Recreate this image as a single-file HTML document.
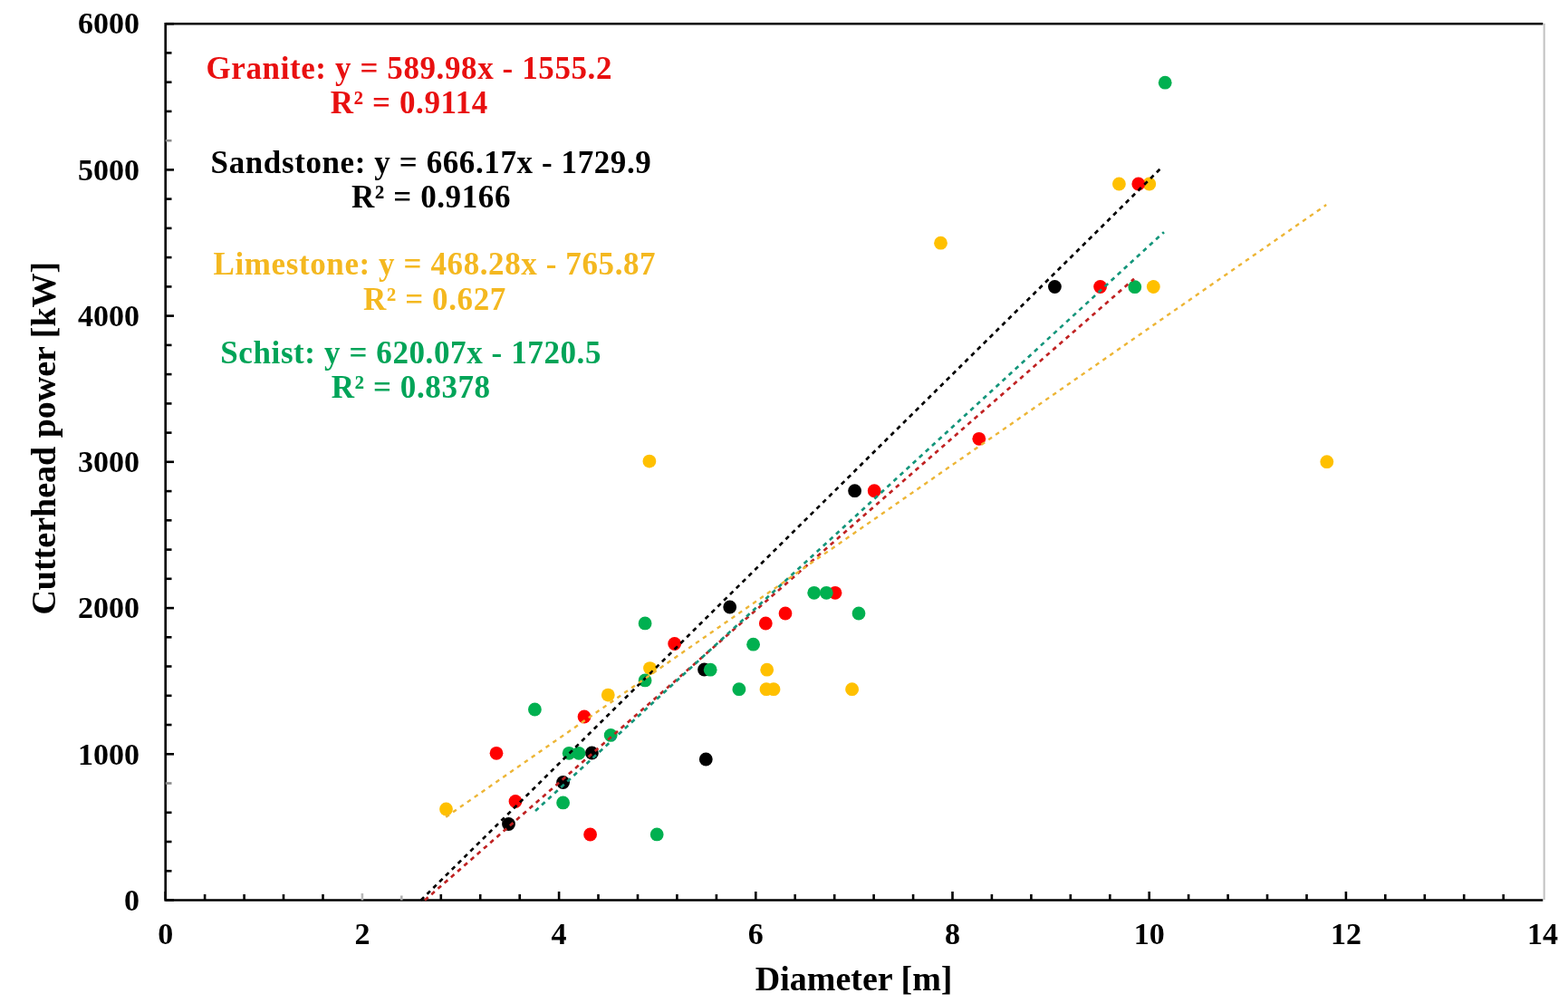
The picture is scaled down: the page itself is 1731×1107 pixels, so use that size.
<!DOCTYPE html>
<html><head><meta charset="utf-8"><title>Cutterhead power vs Diameter</title>
<style>
html,body{margin:0;padding:0;background:#fff;}
body{width:1731px;height:1107px;overflow:hidden;}
svg{display:block;}
text{font-family:"Liberation Serif","Times New Roman",serif;font-weight:bold;}
.tk{font-size:34px;fill:#000;}
.ax{font-size:38px;fill:#000;}
.an{font-size:35px;letter-spacing:0.6px;}
</style></head>
<body>
<svg width="1731" height="1107" viewBox="0 0 1731 1107">
<rect width="1731" height="1107" fill="#fff"/>
<line x1="1704.7" y1="26" x2="1704.7" y2="993" stroke="#C6C6C6" stroke-width="2.2"/>
<path d="M182.7 992.2 V26.2 H1703.3" fill="none" stroke="#000" stroke-width="2.6"/>
<line x1="181.4" y1="993.5" x2="1703.3" y2="993.5" stroke="#000" stroke-width="2.6"/>
<line x1="182.7" y1="993.5" x2="192.0" y2="993.5" stroke="#000" stroke-width="2.6"/>
<line x1="182.7" y1="961.3" x2="189.5" y2="961.3" stroke="#000" stroke-width="2.6"/>
<line x1="182.7" y1="929.0" x2="189.5" y2="929.0" stroke="#000" stroke-width="2.6"/>
<line x1="182.7" y1="896.8" x2="189.5" y2="896.8" stroke="#000" stroke-width="2.6"/>
<line x1="182.7" y1="864.5" x2="189.5" y2="864.5" stroke="#8A8A8A" stroke-width="2.6"/>
<line x1="182.7" y1="832.3" x2="192.0" y2="832.3" stroke="#000" stroke-width="2.6"/>
<line x1="182.7" y1="800.0" x2="189.5" y2="800.0" stroke="#000" stroke-width="2.6"/>
<line x1="182.7" y1="767.8" x2="189.5" y2="767.8" stroke="#000" stroke-width="2.6"/>
<line x1="182.7" y1="735.5" x2="189.5" y2="735.5" stroke="#000" stroke-width="2.6"/>
<line x1="182.7" y1="703.3" x2="189.5" y2="703.3" stroke="#000" stroke-width="2.6"/>
<line x1="182.7" y1="671.1" x2="192.0" y2="671.1" stroke="#000" stroke-width="2.6"/>
<line x1="182.7" y1="638.8" x2="189.5" y2="638.8" stroke="#000" stroke-width="2.6"/>
<line x1="182.7" y1="606.6" x2="189.5" y2="606.6" stroke="#000" stroke-width="2.6"/>
<line x1="182.7" y1="574.3" x2="189.5" y2="574.3" stroke="#000" stroke-width="2.6"/>
<line x1="182.7" y1="542.1" x2="189.5" y2="542.1" stroke="#000" stroke-width="2.6"/>
<line x1="182.7" y1="509.8" x2="192.0" y2="509.8" stroke="#000" stroke-width="2.6"/>
<line x1="182.7" y1="477.6" x2="189.5" y2="477.6" stroke="#000" stroke-width="2.6"/>
<line x1="182.7" y1="445.4" x2="189.5" y2="445.4" stroke="#000" stroke-width="2.6"/>
<line x1="182.7" y1="413.1" x2="189.5" y2="413.1" stroke="#000" stroke-width="2.6"/>
<line x1="182.7" y1="380.9" x2="189.5" y2="380.9" stroke="#000" stroke-width="2.6"/>
<line x1="182.7" y1="348.6" x2="192.0" y2="348.6" stroke="#000" stroke-width="2.6"/>
<line x1="182.7" y1="316.4" x2="189.5" y2="316.4" stroke="#000" stroke-width="2.6"/>
<line x1="182.7" y1="284.1" x2="189.5" y2="284.1" stroke="#000" stroke-width="2.6"/>
<line x1="182.7" y1="251.9" x2="189.5" y2="251.9" stroke="#000" stroke-width="2.6"/>
<line x1="182.7" y1="219.6" x2="189.5" y2="219.6" stroke="#000" stroke-width="2.6"/>
<line x1="182.7" y1="187.4" x2="192.0" y2="187.4" stroke="#000" stroke-width="2.6"/>
<line x1="182.7" y1="155.2" x2="189.5" y2="155.2" stroke="#8A8A8A" stroke-width="2.6"/>
<line x1="182.7" y1="122.9" x2="189.5" y2="122.9" stroke="#000" stroke-width="2.6"/>
<line x1="182.7" y1="90.7" x2="189.5" y2="90.7" stroke="#000" stroke-width="2.6"/>
<line x1="182.7" y1="58.4" x2="189.5" y2="58.4" stroke="#000" stroke-width="2.6"/>
<line x1="182.7" y1="26.2" x2="192.0" y2="26.2" stroke="#000" stroke-width="2.6"/>
<line x1="182.7" y1="993.5" x2="182.7" y2="984.0" stroke="#000" stroke-width="2.6"/>
<line x1="226.1" y1="993.5" x2="226.1" y2="987.0" stroke="#000" stroke-width="2.6"/>
<line x1="269.6" y1="993.5" x2="269.6" y2="987.0" stroke="#000" stroke-width="2.6"/>
<line x1="313.0" y1="993.5" x2="313.0" y2="987.0" stroke="#000" stroke-width="2.6"/>
<line x1="356.5" y1="993.5" x2="356.5" y2="987.0" stroke="#000" stroke-width="2.6"/>
<line x1="399.9" y1="993.5" x2="399.9" y2="986.0" stroke="#B8B8B8" stroke-width="2.6"/>
<line x1="443.3" y1="993.5" x2="443.3" y2="988.5" stroke="#B0B0B0" stroke-width="2.6"/>
<line x1="486.8" y1="993.5" x2="486.8" y2="987.0" stroke="#000" stroke-width="2.6"/>
<line x1="530.2" y1="993.5" x2="530.2" y2="987.0" stroke="#000" stroke-width="2.6"/>
<line x1="573.7" y1="993.5" x2="573.7" y2="987.0" stroke="#000" stroke-width="2.6"/>
<line x1="617.1" y1="993.5" x2="617.1" y2="984.0" stroke="#000" stroke-width="2.6"/>
<line x1="660.5" y1="993.5" x2="660.5" y2="987.0" stroke="#000" stroke-width="2.6"/>
<line x1="704.0" y1="993.5" x2="704.0" y2="987.0" stroke="#000" stroke-width="2.6"/>
<line x1="747.4" y1="993.5" x2="747.4" y2="987.0" stroke="#000" stroke-width="2.6"/>
<line x1="790.9" y1="993.5" x2="790.9" y2="987.0" stroke="#000" stroke-width="2.6"/>
<line x1="834.3" y1="993.5" x2="834.3" y2="984.0" stroke="#000" stroke-width="2.6"/>
<line x1="877.7" y1="993.5" x2="877.7" y2="987.0" stroke="#000" stroke-width="2.6"/>
<line x1="921.2" y1="993.5" x2="921.2" y2="987.0" stroke="#000" stroke-width="2.6"/>
<line x1="964.6" y1="993.5" x2="964.6" y2="987.0" stroke="#000" stroke-width="2.6"/>
<line x1="1008.1" y1="993.5" x2="1008.1" y2="987.0" stroke="#000" stroke-width="2.6"/>
<line x1="1051.5" y1="993.5" x2="1051.5" y2="984.0" stroke="#000" stroke-width="2.6"/>
<line x1="1094.9" y1="993.5" x2="1094.9" y2="987.0" stroke="#000" stroke-width="2.6"/>
<line x1="1138.4" y1="993.5" x2="1138.4" y2="987.0" stroke="#000" stroke-width="2.6"/>
<line x1="1181.8" y1="993.5" x2="1181.8" y2="987.0" stroke="#000" stroke-width="2.6"/>
<line x1="1225.3" y1="993.5" x2="1225.3" y2="987.0" stroke="#000" stroke-width="2.6"/>
<line x1="1268.7" y1="993.5" x2="1268.7" y2="984.0" stroke="#000" stroke-width="2.6"/>
<line x1="1312.1" y1="993.5" x2="1312.1" y2="987.0" stroke="#000" stroke-width="2.6"/>
<line x1="1355.6" y1="993.5" x2="1355.6" y2="987.0" stroke="#000" stroke-width="2.6"/>
<line x1="1399.0" y1="993.5" x2="1399.0" y2="987.0" stroke="#000" stroke-width="2.6"/>
<line x1="1442.5" y1="993.5" x2="1442.5" y2="987.0" stroke="#000" stroke-width="2.6"/>
<line x1="1485.9" y1="993.5" x2="1485.9" y2="984.0" stroke="#000" stroke-width="2.6"/>
<line x1="1529.3" y1="993.5" x2="1529.3" y2="987.0" stroke="#000" stroke-width="2.6"/>
<line x1="1572.8" y1="993.5" x2="1572.8" y2="987.0" stroke="#000" stroke-width="2.6"/>
<line x1="1616.2" y1="993.5" x2="1616.2" y2="987.0" stroke="#000" stroke-width="2.6"/>
<line x1="1659.7" y1="993.5" x2="1659.7" y2="987.0" stroke="#000" stroke-width="2.6"/>
<circle cx="492.5" cy="893.0" r="7.4" fill="#FFC000"/><circle cx="671.3" cy="767.1" r="7.4" fill="#FFC000"/><circle cx="717.5" cy="737.6" r="7.4" fill="#FFC000"/><circle cx="716.9" cy="509.1" r="7.4" fill="#FFC000"/><circle cx="846.7" cy="739.2" r="7.4" fill="#FFC000"/><circle cx="846.0" cy="760.7" r="7.4" fill="#FFC000"/><circle cx="854.0" cy="760.7" r="7.4" fill="#FFC000"/><circle cx="940.6" cy="760.7" r="7.4" fill="#FFC000"/><circle cx="1038.5" cy="268.2" r="7.4" fill="#FFC000"/><circle cx="1235.4" cy="203.0" r="7.4" fill="#FFC000"/><circle cx="1268.8" cy="203.0" r="7.4" fill="#FFC000"/><circle cx="1273.3" cy="316.5" r="7.4" fill="#FFC000"/><circle cx="1464.8" cy="509.7" r="7.4" fill="#FFC000"/><circle cx="561.5" cy="909.5" r="7.4" fill="#000000"/><circle cx="621.6" cy="863.5" r="7.4" fill="#000000"/><circle cx="653.4" cy="831.0" r="7.4" fill="#000000"/><circle cx="777.5" cy="739.0" r="7.4" fill="#000000"/><circle cx="779.3" cy="838.0" r="7.4" fill="#000000"/><circle cx="805.7" cy="670.0" r="7.4" fill="#000000"/><circle cx="943.6" cy="541.7" r="7.4" fill="#000000"/><circle cx="1164.4" cy="316.5" r="7.4" fill="#000000"/><circle cx="548.0" cy="831.3" r="7.4" fill="#FF0000"/><circle cx="569.0" cy="884.5" r="7.4" fill="#FF0000"/><circle cx="645.0" cy="791.0" r="7.4" fill="#FF0000"/><circle cx="651.6" cy="921.0" r="7.4" fill="#FF0000"/><circle cx="744.7" cy="710.5" r="7.4" fill="#FF0000"/><circle cx="845.3" cy="688.0" r="7.4" fill="#FF0000"/><circle cx="867.0" cy="677.0" r="7.4" fill="#FF0000"/><circle cx="922.0" cy="654.3" r="7.4" fill="#FF0000"/><circle cx="965.2" cy="541.7" r="7.4" fill="#FF0000"/><circle cx="1080.8" cy="484.3" r="7.4" fill="#FF0000"/><circle cx="1214.6" cy="316.5" r="7.4" fill="#FF0000"/><circle cx="1256.8" cy="203.0" r="7.4" fill="#FF0000"/><circle cx="590.4" cy="783.0" r="7.4" fill="#00B050"/><circle cx="621.6" cy="885.9" r="7.4" fill="#00B050"/><circle cx="628.2" cy="831.3" r="7.4" fill="#00B050"/><circle cx="639.0" cy="831.3" r="7.4" fill="#00B050"/><circle cx="674.2" cy="811.4" r="7.4" fill="#00B050"/><circle cx="712.1" cy="687.9" r="7.4" fill="#00B050"/><circle cx="712.1" cy="750.9" r="7.4" fill="#00B050"/><circle cx="725.2" cy="920.9" r="7.4" fill="#00B050"/><circle cx="784.2" cy="739.2" r="7.4" fill="#00B050"/><circle cx="815.9" cy="760.7" r="7.4" fill="#00B050"/><circle cx="831.6" cy="711.2" r="7.4" fill="#00B050"/><circle cx="898.7" cy="654.3" r="7.4" fill="#00B050"/><circle cx="912.3" cy="654.3" r="7.4" fill="#00B050"/><circle cx="948.0" cy="677.0" r="7.4" fill="#00B050"/><circle cx="1252.8" cy="316.7" r="7.4" fill="#00B050"/><circle cx="1286.2" cy="91.2" r="7.4" fill="#00B050"/>
<line x1="464.7" y1="993.5" x2="1282.8" y2="184.4" stroke="#000" stroke-width="2.7" stroke-dasharray="4.8 4.8"/>
<line x1="469.0" y1="993.5" x2="1252.0" y2="307.7" stroke="#C02222" stroke-width="2.7" stroke-dasharray="4.8 4.8"/>
<line x1="492.2" y1="901.8" x2="1464.2" y2="226.1" stroke="#EDB535" stroke-width="2.4" stroke-dasharray="4.6 5"/>
<line x1="591.0" y1="895.0" x2="1285.0" y2="256.2" stroke="#13957A" stroke-width="2.7" stroke-dasharray="4.8 4.8"/>
<text x="154" y="1004.7" text-anchor="end" class="tk">0</text>
<text x="154" y="843.5" text-anchor="end" class="tk">1000</text>
<text x="154" y="682.3" text-anchor="end" class="tk">2000</text>
<text x="154" y="521.0" text-anchor="end" class="tk">3000</text>
<text x="154" y="359.8" text-anchor="end" class="tk">4000</text>
<text x="154" y="198.6" text-anchor="end" class="tk">5000</text>
<text x="154" y="37.4" text-anchor="end" class="tk">6000</text>
<text x="182.7" y="1041.5" text-anchor="middle" class="tk">0</text>
<text x="399.9" y="1041.5" text-anchor="middle" class="tk">2</text>
<text x="617.1" y="1041.5" text-anchor="middle" class="tk">4</text>
<text x="834.3" y="1041.5" text-anchor="middle" class="tk">6</text>
<text x="1051.5" y="1041.5" text-anchor="middle" class="tk">8</text>
<text x="1268.7" y="1041.5" text-anchor="middle" class="tk">10</text>
<text x="1485.9" y="1041.5" text-anchor="middle" class="tk">12</text>
<text x="1703.1" y="1041.5" text-anchor="middle" class="tk">14</text>
<text x="942.6" y="1093.2" text-anchor="middle" class="ax">Diameter [m]</text>
<text transform="translate(61 483.7) rotate(-90)" x="0" y="0" text-anchor="middle" class="ax">Cutterhead power [kW]</text>
<text x="451.8" y="87" text-anchor="middle" class="an" fill="#E81010">Granite: y = 589.98x - 1555.2</text><text x="451.8" y="125.2" text-anchor="middle" class="an" fill="#E81010">R² = 0.9114</text>
<text x="476" y="190.7" text-anchor="middle" class="an" fill="#000">Sandstone: y = 666.17x - 1729.9</text><text x="476" y="228.5" text-anchor="middle" class="an" fill="#000">R² = 0.9166</text>
<text x="479.9" y="302.8" text-anchor="middle" class="an" fill="#F4B820">Limestone: y = 468.28x - 765.87</text><text x="479.9" y="341.8" text-anchor="middle" class="an" fill="#F4B820">R² = 0.627</text>
<text x="453.7" y="400.8" text-anchor="middle" class="an" fill="#00A458">Schist: y = 620.07x - 1720.5</text><text x="453.7" y="439" text-anchor="middle" class="an" fill="#00A458">R² = 0.8378</text>
</svg>
</body></html>
